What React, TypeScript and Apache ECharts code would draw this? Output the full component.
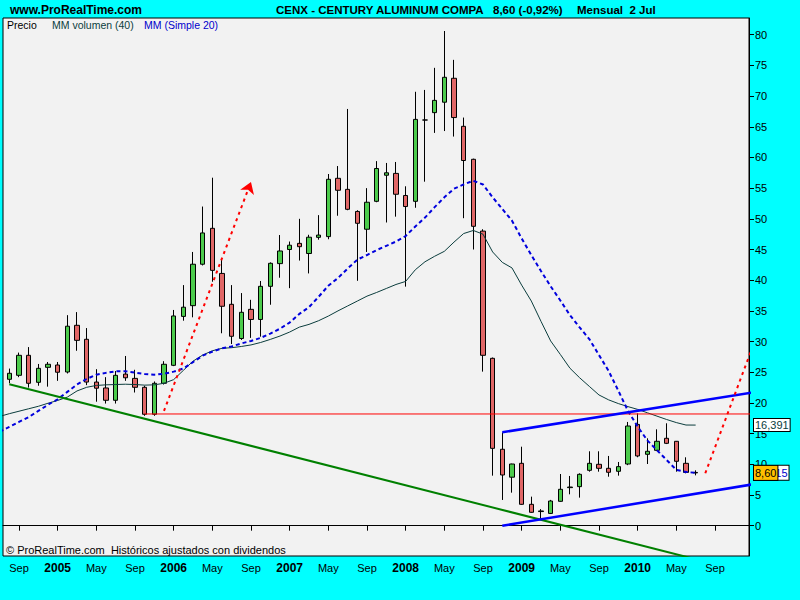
import React, { useEffect, useRef } from "react";
import * as echarts from "echarts";

// ---------- data ----------
const months = [
  "2004-08", "2004-09", "2004-10", "2004-11", "2004-12",
  "2005-01", "2005-02", "2005-03", "2005-04", "2005-05", "2005-06", "2005-07", "2005-08", "2005-09", "2005-10", "2005-11", "2005-12",
  "2006-01", "2006-02", "2006-03", "2006-04", "2006-05", "2006-06", "2006-07", "2006-08", "2006-09", "2006-10", "2006-11", "2006-12",
  "2007-01", "2007-02", "2007-03", "2007-04", "2007-05", "2007-06", "2007-07", "2007-08", "2007-09", "2007-10", "2007-11", "2007-12",
  "2008-01", "2008-02", "2008-03", "2008-04", "2008-05", "2008-06", "2008-07", "2008-08", "2008-09", "2008-10", "2008-11", "2008-12",
  "2009-01", "2009-02", "2009-03", "2009-04", "2009-05", "2009-06", "2009-07", "2009-08", "2009-09", "2009-10", "2009-11", "2009-12",
  "2010-01", "2010-02", "2010-03", "2010-04", "2010-05", "2010-06", "2010-07",
];
const opens = [
  23.85, 24.5, 27.76, 23.36, 25.8,
  26.18, 25.04, 32.65, 30.37, 23.4, 22.44, 20.43, 24.7, 24.0, 22.55, 18.15, 23.2,
  26.13, 34.1, 35.85, 42.6, 48.45, 41.1, 36.07, 30.5, 35.25, 33.6, 39.0, 42.7,
  45.0, 46.0, 44.35, 46.98, 47.1, 56.6, 54.8, 51.2, 48.3, 52.85, 57.1, 57.4,
  53.8, 52.85, 66.1, 67.3, 69.0, 72.9, 65.07, 59.7, 48.0, 27.27, 12.45, 7.9,
  10.16, 3.48, 2.3, 2.0, 3.97, 6.2, 6.36, 9.02, 10.0, 9.35, 8.86, 10.05,
  16.5, 11.63, 12.28, 14.24, 13.75, 10.16, 8.68,
];
const closes = [
  24.83, 27.76, 23.2, 25.64, 26.3,
  25.0, 32.5, 30.2, 23.4, 22.4, 20.43, 24.5, 24.1, 22.55, 18.15, 23.2, 26.3,
  34.17, 35.6, 42.6, 47.7, 41.6, 35.75, 30.86, 34.77, 33.6, 39.0, 42.75, 44.76,
  45.7, 45.46, 47.0, 47.35, 56.44, 54.65, 51.55, 49.27, 52.7, 58.2, 57.5, 54.0,
  52.0, 66.2, 66.1, 69.3, 73.06, 66.5, 59.5, 48.78, 27.76, 12.6, 8.26, 10.05,
  3.48, 2.18, 2.4, 4.02, 5.93, 6.3, 8.37, 10.16, 9.35, 8.7, 9.62, 16.24,
  11.36, 12.12, 13.75, 13.42, 10.49, 8.68, 8.6,
];
const lows = [
  23.2, 24.2, 22.5, 22.8, 22.65,
  23.6, 24.8, 28.5, 22.9, 20.2, 19.9, 19.9, 23.6, 21.7, 17.9, 17.9, 23.0,
  26.0, 33.4, 33.95, 42.4, 39.75, 31.35, 29.6, 30.26, 30.6, 30.8, 36.0, 40.4,
  38.7, 43.2, 41.1, 46.6, 46.67, 50.5, 51.4, 39.9, 44.6, 52.7, 49.4, 50.35,
  38.95, 51.8, 56.05, 64.0, 64.3, 63.4, 50.1, 45.0, 25.1, 8.15, 4.19, 5.38,
  3.4, 2.1, 1.09, 1.9, 3.9, 5.11, 4.57, 8.8, 8.8, 7.98, 8.15, 9.86,
  11.15, 10.05, 12.2, 13.3, 8.8, 8.53, 8.2,
];
const highs = [
  25.6, 28.2, 29.1, 26.35, 26.67,
  26.67, 34.3, 34.8, 32.2, 25.5, 24.2, 25.2, 27.65, 25.4, 22.8, 23.5, 26.8,
  35.15, 39.2, 44.6, 52.0, 56.7, 43.3, 39.2, 37.9, 36.8, 39.87, 42.9, 47.36,
  46.3, 50.0, 47.4, 50.6, 57.3, 58.6, 67.9, 51.4, 55.0, 59.4, 59.1, 59.26,
  55.3, 70.7, 71.0, 74.6, 80.6, 75.9, 66.5, 59.8, 48.3, 27.4, 15.2, 10.1,
  12.87, 4.73, 2.7, 4.2, 8.42, 8.1, 8.53, 12.12, 12.12, 11.36, 10.38, 16.9,
  18.3, 14.24, 15.7, 16.68, 13.8, 11.14, 9.02,
];

const maMonths = ["2004-07", ...months];
const sma20 = [
  15.3, 16.1, 16.9, 17.7, 18.7, 19.7,
  20.6, 21.8, 23.0, 23.9, 24.6, 24.9, 25.15, 25.15, 24.95, 24.7, 24.6, 24.75,
  25.1, 25.6, 26.65, 27.7, 28.35, 28.9, 29.2, 29.7, 30.1, 30.6, 31.3, 32.1,
  33.1, 34.5, 35.6, 37.3, 39.1, 40.35, 41.9, 43.35, 44.1, 44.9, 45.6, 46.3,
  47.2, 48.75, 50.2, 51.9, 53.5, 54.9, 55.6, 56.2, 55.6, 53.5, 51.6, 49.7,
  46.8, 44.1, 41.5, 39.0, 36.7, 34.3, 32.3, 30.4, 27.8, 25.2, 22.0, 18.7,
  16.15, 13.9, 12.3, 10.7, 9.1, 8.75, 8.615,
];
const mmVolumen40 = [
  17.8, 18.25, 18.65, 19.05, 19.45, 19.95,
  20.4, 20.95, 21.95, 22.55, 22.85, 22.95, 23.0, 23.05, 23.0, 22.9, 22.95, 23.2,
  23.8, 25.3, 26.8, 27.8, 28.5, 28.9, 29.0, 29.2, 29.45, 29.85, 30.35, 30.9,
  31.55, 32.35, 32.8, 33.4, 34.15, 35.0, 35.8, 36.6, 37.4, 38.0, 38.65, 39.3,
  39.8, 41.7, 43.0, 43.9, 44.7, 46.2, 47.6, 48.1, 47.5, 44.6, 42.9, 42.0,
  39.2, 36.6, 33.3, 30.1, 27.9, 25.65, 24.1, 22.7, 21.3, 20.5, 19.9, 19.4,
  18.95, 18.4, 17.85, 17.3, 16.8, 16.4, 16.39,
];

// drawn trend lines: [month, value]
const greenTrend: [string, number][] = [["2004-08", 23.05], ["2010-09", -6.27]];
const redLevel: [string, number][] = [["2005-10", 18.2], ["2011-01", 18.2]];
const redArrow: [string, number][] = [["2005-12", 18.7], ["2006-09", 56.0]];
const channelUpper: [string, number][] = [["2008-11", 15.22], ["2011-01", 21.74]];
const channelLower: [string, number][] = [["2008-11", 0.0], ["2011-01", 6.76]];
const redProjection: [string, number][] = [["2010-08", 8.54], ["2011-01", 29.6]];

const xTickMonths = [
  "2004-09", "2005-01", "2005-05", "2005-09", "2006-01", "2006-05", "2006-09",
  "2007-01", "2007-05", "2007-09", "2008-01", "2008-05", "2008-09",
  "2009-01", "2009-05", "2009-09", "2010-01", "2010-05", "2010-09",
];
const yTicks = [0, 5, 10, 15, 20, 25, 30, 35, 40, 45, 50, 55, 60, 65, 70, 75, 80];

const lastPrice = 8.6;
const lastSma = 8.615;
const lastMmVol = 16.391;

// ---------- helpers ----------
const monthIndex = (s: string) => {
  const [y, m] = s.split("-").map(Number);
  return (y - 2004) * 12 + (m - 1);
};
const toXY = (pts: [string, number][]) => pts.map(([m, v]) => [monthIndex(m), v]);
const FONT = "Arial, 'Liberation Sans', sans-serif";

export default function App() {
  const ref = useRef<HTMLDivElement>(null);
  useEffect(() => {
    if (!ref.current) return;
    const chart = echarts.init(ref.current, undefined, { renderer: "svg" });

    const candleData = months.map((m, i) => [monthIndex(m), opens[i], closes[i], lows[i], highs[i]]);
    const smaData = maMonths.map((m, i) => [monthIndex(m), sma20[i]]);
    const volData = maMonths.map((m, i) => [monthIndex(m), mmVolumen40[i]]);
    const xTicks = xTickMonths.map(monthIndex);

    const priceLabel = (text: string, bg: string, color: string, padding: number[]) => ({
      show: true,
      position: "end",
      distance: 5,
      formatter: text,
      backgroundColor: bg,
      borderColor: "#000",
      borderWidth: 1,
      color,
      padding,
      fontSize: 11,
      fontFamily: FONT,
      lineHeight: 12,
      opacity: 1,
    });

    const hiddenLine = { color: "rgba(0,0,0,0)", width: 1, type: "solid" };

    const option: any = {
      animation: false,
      backgroundColor: "#00FFFF",
      grid: {
        left: 3,
        right: 51,
        top: 18,
        bottom: 44,
        show: true,
        backgroundColor: "#F2F2F2",
        borderColor: "#000",
        borderWidth: 1,
      },
      xAxis: {
        type: "value",
        min: 6.345,
        max: 83.52,
        splitLine: { show: false },
        axisLine: { show: true, lineStyle: { color: "#000" } },
        axisTick: { show: true, length: 5, customValues: xTicks, lineStyle: { color: "#000" } },
        axisLabel: {
          customValues: xTicks,
          margin: 6,
          color: "#000",
          fontFamily: FONT,
          formatter: (v: number) => {
            const r = Math.round(v);
            const mm = r % 12;
            const yr = 2004 + Math.floor(r / 12);
            if (mm === 0) return `{y|${yr}}`;
            return `{m|${mm === 4 ? "May" : "Sep"}}`;
          },
          rich: {
            y: { fontWeight: "bold", fontSize: 12, fontFamily: FONT, color: "#000" },
            m: { fontSize: 11, fontFamily: FONT, color: "#000" },
          },
        },
      },
      yAxis: {
        type: "value",
        position: "right",
        min: -4.94,
        max: 82.72,
        splitLine: { show: false },
        axisLine: { show: true, lineStyle: { color: "#000" } },
        axisTick: { show: true, length: 5, customValues: yTicks, lineStyle: { color: "#000" } },
        axisLabel: { customValues: yTicks, margin: 6, color: "#000", fontSize: 11, fontFamily: FONT },
      },
      graphic: [
        { type: "text", x: 10, y: 10, style: { text: "www.ProRealTime.com", font: `bold 12px ${FONT}`, fill: "#000", verticalAlign: "middle" } },
        { type: "text", x: 276, y: 10, style: { text: "CENX - CENTURY ALUMINUM COMPA", font: `bold 11.5px ${FONT}`, fill: "#000", verticalAlign: "middle" } },
        { type: "text", x: 493, y: 10, style: { text: "8,60 (-0,92%)", font: `bold 11.5px ${FONT}`, fill: "#000", verticalAlign: "middle" } },
        { type: "text", x: 577, y: 10, style: { text: "Mensual  2 Jul", font: `bold 11.5px ${FONT}`, fill: "#000", verticalAlign: "middle" } },
        { type: "text", x: 7, y: 25, z: 100, style: { text: "Precio", font: `10.5px ${FONT}`, fill: "#000", verticalAlign: "middle" } },
        { type: "text", x: 52, y: 25, z: 100, style: { text: "MM volumen (40)", font: `10.5px ${FONT}`, fill: "#0B3D3D", verticalAlign: "middle" } },
        { type: "text", x: 144, y: 25, z: 100, style: { text: "MM (Simple 20)", font: `10.5px ${FONT}`, fill: "#0000CC", verticalAlign: "middle" } },
        { type: "text", x: 6, y: 550, z: 100, style: { text: "© ProRealTime.com  Históricos ajustados con dividendos", font: `11px ${FONT}`, fill: "#000", verticalAlign: "middle" } },
      ],
      series: [
        {
          type: "candlestick",
          data: candleData,
          barWidth: 5,
          z: 2,
          itemStyle: {
            color: "#4CCB4C",
            color0: "#E06666",
            borderColor: "#000",
            borderColor0: "#000",
            borderWidth: 1,
          },
          markLine: {
            silent: true,
            z: 20,
            symbol: "none",
            lineStyle: hiddenLine,
            label: priceLabel("8,60", "#FFC000", "#000", [1, 1, 1, 1]),
            data: [{ yAxis: lastPrice }],
          },
        },
        {
          type: "line",
          data: volData,
          showSymbol: false,
          symbol: "none",
          z: 3,
          lineStyle: { color: "#0B3D3D", width: 1 },
          markLine: {
            silent: true,
            z: 10,
            symbol: "none",
            lineStyle: hiddenLine,
            label: priceLabel("16,391", "#FFFFFF", "#0B3D3D", [0, 1, 0, 1]),
            data: [{ yAxis: lastMmVol }],
          },
        },
        {
          type: "line",
          data: smaData,
          showSymbol: false,
          symbol: "none",
          z: 4,
          lineStyle: { color: "#0000DD", width: 2, type: [4, 3] },
          markLine: {
            silent: true,
            z: 10,
            symbol: "none",
            lineStyle: hiddenLine,
            label: priceLabel("8,615", "#FFFFFF", "#0000CC", [1, 1, 1, 6]),
            data: [{ yAxis: lastSma }],
          },
        },
        {
          type: "line",
          data: toXY(greenTrend),
          symbol: "none",
          z: 5,
          lineStyle: { color: "#008000", width: 2 },
        },
        {
          type: "line",
          data: toXY(redLevel),
          symbol: "none",
          z: 5,
          lineStyle: { color: "#FF0000", width: 1 },
          markLine: {
            silent: true,
            symbol: ["none", "arrow"],
            symbolSize: 11,
            lineStyle: { color: "#FF0000", width: 2, type: [3, 4] },
            itemStyle: { color: "#FF0000" },
            label: { show: false },
            data: [[{ coord: toXY(redArrow)[0] }, { coord: toXY(redArrow)[1] }]],
          },
        },
        {
          type: "line",
          data: toXY(channelUpper),
          symbol: "none",
          z: 5,
          lineStyle: { color: "#0000FF", width: 2.5 },
        },
        {
          type: "line",
          data: toXY(channelLower),
          symbol: "none",
          z: 5,
          lineStyle: { color: "#0000FF", width: 2.5 },
        },
        {
          type: "line",
          data: toXY(redProjection),
          symbol: "none",
          z: 5,
          lineStyle: { color: "#FF0000", width: 2, type: [3, 4] },
        },
      ],
    };

    chart.setOption(option);
    return () => chart.dispose();
  }, []);

  return (
    <div
      ref={ref}
      style={{ position: "fixed", left: 0, top: 0, width: 800, height: 600, background: "#00FFFF" }}
    />
  );
}
